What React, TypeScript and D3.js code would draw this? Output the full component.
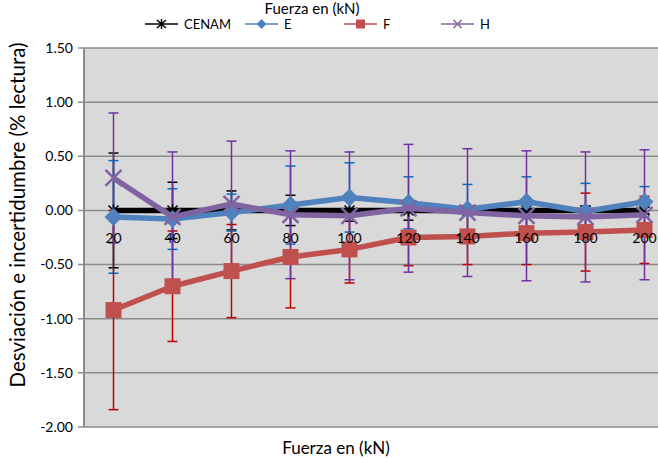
import React from "react";
import * as d3 from "d3";

const fuerza = ["20", "40", "60", "80", "100", "120", "140", "160", "180", "200"];
const yTicks = [1.5, 1.0, 0.5, 0.0, -0.5, -1.0, -1.5, -2.0];

const cenam = [0, 0, 0, 0, 0, 0, 0, 0, 0, 0];
const cenamErr = [0.53, 0.26, 0.18, 0.14, 0.1, 0.09, 0.04, 0.04, 0.04, 0.03];

const serieE = [-0.06, -0.08, -0.02, 0.05, 0.12, 0.07, 0.01, 0.08, -0.01, 0.08];
const errE = [0.52, 0.28, 0.17, 0.36, 0.32, 0.24, 0.23, 0.23, 0.26, 0.14];

const serieF = [-0.92, -0.7, -0.56, -0.43, -0.36, -0.25, -0.24, -0.21, -0.2, -0.18];
const errF = [0.92, 0.51, 0.43, 0.47, 0.31, 0.26, 0.26, 0.29, 0.36, 0.31];

const serieH = [0.3, -0.06, 0.06, -0.04, -0.05, 0.02, -0.02, -0.05, -0.06, -0.04];
const errH = [0.6, 0.6, 0.58, 0.59, 0.59, 0.59, 0.59, 0.6, 0.6, 0.6];

const font = "Lato, 'Open Sans', sans-serif";

function Marker({ kind, x, y, color }) {
  if (kind === "star") {
    return (
      <g stroke={color} strokeWidth={1.5}>
        <path d={`M${x - 5} ${y - 5} L${x + 5} ${y + 5} M${x - 5} ${y + 5} L${x + 5} ${y - 5} M${x} ${y - 6} L${x} ${y + 6}`} />
      </g>
    );
  }
  if (kind === "diamond") {
    return <path d={`M${x} ${y - 9} L${x + 9} ${y} L${x} ${y + 9} L${x - 9} ${y} Z`} fill={color} />;
  }
  if (kind === "square") {
    return <rect x={x - 8} y={y - 8} width={16} height={16} fill={color} />;
  }
  return (
    <path d={`M${x - 8} ${y - 8} L${x + 8} ${y + 8} M${x - 8} ${y + 8} L${x + 8} ${y - 8}`} stroke={color} strokeWidth={2.5} />
  );
}

export default function App() {
  const width = 658;
  const height = 460;
  const x = d3.scaleBand().domain(fuerza).range([84, 674]);
  const y = d3.scaleLinear().domain([-2, 1.5]).range([427, 48]);
  const cx = (c) => x(c) + x.bandwidth() / 2;

  const series = [
    { name: "CENAM", values: cenam, err: cenamErr, color: "#000000", errColor: "#000000", marker: "star" },
    { name: "E", values: serieE, err: errE, color: "#4F81BD", errColor: "#0070C0", marker: "diamond" },
    { name: "F", values: serieF, err: errF, color: "#C0504D", errColor: "#C00000", marker: "square" },
    { name: "H", values: serieH, err: errH, color: "#8064A2", errColor: "#7030A0", marker: "x" },
  ];

  const line = d3.line().x((d) => cx(d[0])).y((d) => y(d[1]));

  const legendX = [145, 245, 344, 441];

  return (
    <svg width={width} height={height} style={{ position: "absolute", left: 0, top: 0 }} fontFamily={font}>
      <rect width={width} height={height} fill="#ffffff" />
      <rect x={84} y={48} width={590} height={379} fill="#D9D9D9" />
      {yTicks.map((t) => (
        <g key={t}>
          <line x1={78} x2={674} y1={y(t)} y2={y(t)} stroke="#8C8C8C" strokeWidth={1.5} />
          <text x={73} y={y(t)} dy="0.35em" textAnchor="end" fontSize={14} fill="#000">
            {t.toFixed(2)}
          </text>
        </g>
      ))}
      <line x1={84} x2={84} y1={48} y2={427} stroke="#8C8C8C" strokeWidth={2} />

      {series.map((s) => (
        <g key={s.name + "err"} stroke={s.errColor} strokeWidth={1.5}>
          {s.values.map((v, i) => {
            const px = cx(fuerza[i]);
            const hi = y(v + s.err[i]);
            const lo = y(v - s.err[i]);
            return (
              <g key={i}>
                <line x1={px} x2={px} y1={hi} y2={lo} />
                <line x1={px - 5} x2={px + 5} y1={hi} y2={hi} />
                <line x1={px - 5} x2={px + 5} y1={lo} y2={lo} />
              </g>
            );
          })}
        </g>
      ))}

      {series.map((s) => (
        <g key={s.name}>
          <path d={line(s.values.map((v, i) => [fuerza[i], v]))} fill="none" stroke={s.color} strokeWidth={5.5} strokeLinejoin="round" />
          {s.values.map((v, i) => (
            <Marker key={i} kind={s.marker} x={cx(fuerza[i])} y={y(v)} color={s.color} />
          ))}
        </g>
      ))}

      {fuerza.map((c) => (
        <text key={c} x={cx(c)} y={y(0) + 33} textAnchor="middle" fontSize={14} fill="#000">
          {c}
        </text>
      ))}

      {series.map((s, i) => (
        <g key={s.name + "leg"}>
          <line x1={legendX[i]} x2={legendX[i] + 33} y1={24} y2={24} stroke={s.color} strokeWidth={1.5} />
          {s.marker === "star" && (
            <path d={`M${legendX[i] + 12} 20 L${legendX[i] + 21} 28 M${legendX[i] + 12} 28 L${legendX[i] + 21} 20 M${legendX[i] + 16.5} 19 L${legendX[i] + 16.5} 29`} stroke="#000" strokeWidth={1.5} />
          )}
          {s.marker === "diamond" && (
            <path d={`M${legendX[i] + 16.5} 19 L${legendX[i] + 21.5} 24 L${legendX[i] + 16.5} 29 L${legendX[i] + 11.5} 24 Z`} fill={s.color} />
          )}
          {s.marker === "square" && <rect x={legendX[i] + 12} y={19.5} width={9} height={9} fill={s.color} />}
          {s.marker === "x" && (
            <path d={`M${legendX[i] + 12.5} 20 L${legendX[i] + 20.5} 28 M${legendX[i] + 12.5} 28 L${legendX[i] + 20.5} 20`} stroke={s.color} strokeWidth={1.5} />
          )}
          <text x={legendX[i] + 39} y={24} dy="0.35em" fontSize={13} fill="#000">
            {s.name}
          </text>
        </g>
      ))}

      <text x={312} y={14} textAnchor="middle" fontSize={15} fill="#000">
        Fuerza en (kN)
      </text>
      <text x={336} y={454} textAnchor="middle" fontSize={17} fill="#000">
        Fuerza en (kN)
      </text>
      <text transform="translate(25,215) rotate(-90)" textAnchor="middle" fontSize={20.5} fill="#000">
        Desviación e incertidumbre  (% lectura)
      </text>
    </svg>
  );
}
